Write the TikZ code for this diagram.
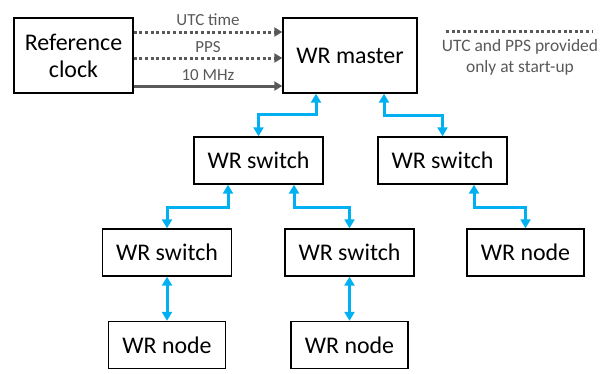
\documentclass[tikz,border=0pt]{standalone}
\usepackage{fontspec}
\setmainfont{Carlito}
\usetikzlibrary{arrows.meta}
\definecolor{lgrey}{HTML}{595959}
\definecolor{wrblue}{HTML}{00B0F0}
\begin{document}
\begin{tikzpicture}[x=1bp,y=-1bp,
  box/.style={draw=black,line width=1.4bp,fill=white,inner sep=0pt,align=center,font=\fontsize{24}{28}\selectfont},
  sw/.style={box,minimum width=129bp,minimum height=47bp},
  nd/.style={box,minimum width=117bp,minimum height=47bp},
  greyarr/.style={draw=lgrey,line width=3bp,-{Triangle[width=9bp,length=8bp]}},
  dotline/.style={greyarr,dash pattern=on 3bp off 2.6bp},
  link/.style={draw=wrblue,line width=3bp,{Triangle[width=10bp,length=9bp]}-{Triangle[width=10bp,length=9bp]}},
  lab/.style={text=lgrey,font=\fontsize{17}{20}\selectfont,inner sep=1bp}]
\useasboundingbox (0,0) rectangle (612,373);
\node[box,minimum width=119bp,minimum height=75bp] (ref) at (73.5,55.5) {Reference\\[-1bp]clock};
\node[box,minimum width=134bp,minimum height=75bp] (master) at (350,55.5) {WR master};
\node[sw] (sw1) at (258.5,160.5) {WR switch};
\node[sw] (sw2) at (442.5,160.5) {WR switch};
\node[sw] (sw3) at (167,252.5) {WR switch};
\node[sw] (sw4) at (349.5,252.5) {WR switch};
\node[nd] (nd3) at (525.5,252.5) {WR node};
\node[nd] (nd1) at (167,345) {WR node};
\node[nd] (nd2) at (349.5,345) {WR node};
% reference clock signals
\draw[dotline] ([yshift=23.5bp]ref.east) -- node[lab,above,yshift=4bp] (l1) {UTC time} ([yshift=23.5bp]master.west);
\draw[dotline] ([yshift=-2.5bp]ref.east) -- node[lab,above,yshift=3bp] (l2) {PPS} ([yshift=-2.5bp]master.west);
\draw[greyarr] ([yshift=-30.5bp]ref.east) -- node[lab,above,yshift=3bp] (l3) {10 MHz} ([yshift=-30.5bp]master.west);
% legend
\coordinate (lgA) at (446,31);
\coordinate (lgB) at (592,31);
\draw[draw=lgrey,line width=3bp,dash pattern=on 3bp off 2.6bp] (lgA) -- (lgB);
\node[lab,align=center,font=\fontsize{17.5}{21}\selectfont] (leg) at (520,57.5) {UTC and PPS provided\\only at start-up};
% WR links
\draw[link] ([xshift=-34bp]master.south) -- ++(0,21) -| (sw1.north);
\draw[link] ([xshift=34bp]master.south) -- ++(0,22) -| (sw2.north);
\draw[link] ([xshift=-30.5bp]sw1.south) -- ++(0,23) -| (sw3.north);
\draw[link] ([xshift=35.5bp]sw1.south) -- ++(0,23) -| (sw4.north);
\draw[link] ([xshift=31.5bp]sw2.south) -- ++(0,23) -| (nd3.north);
\draw[link] (sw3.south) -- (nd1.north);
\draw[link] (sw4.south) -- (nd2.north);
\end{tikzpicture}
\end{document}
